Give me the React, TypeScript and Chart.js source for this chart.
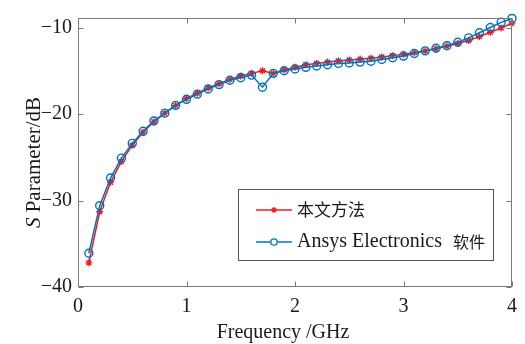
import { useEffect, useRef } from 'react';
import { Chart, registerables } from 'chart.js';

Chart.register(...registerables);

const frequencies = [
  0.1, 0.2, 0.3, 0.4, 0.5, 0.6, 0.7, 0.8, 0.9, 1.0,
  1.1, 1.2, 1.3, 1.4, 1.5, 1.6, 1.7, 1.8, 1.9, 2.0,
  2.1, 2.2, 2.3, 2.4, 2.5, 2.6, 2.7, 2.8, 2.9, 3.0,
  3.1, 3.2, 3.3, 3.4, 3.5, 3.6, 3.7, 3.8, 3.9, 4.0,
];

const proposedMethod = [
  -37.2, -31.3, -27.9, -25.5, -23.6, -22.1, -20.9, -19.9, -19.0, -18.2,
  -17.6, -17.0, -16.5, -16.0, -15.6, -15.3, -15.0, -15.3, -14.9, -14.6,
  -14.3, -14.15, -14.0, -13.85, -13.75, -13.65, -13.55, -13.4, -13.25, -13.1,
  -12.9, -12.7, -12.45, -12.15, -11.85, -11.5, -11.05, -10.55, -10.05, -9.5,
];

const ansysElectronics = [
  -36.1, -30.6, -27.4, -25.1, -23.4, -22.0, -20.8, -19.9, -19.0, -18.3,
  -17.7, -17.1, -16.6, -16.1, -15.8, -15.5, -16.9, -15.3, -15.0, -14.8,
  -14.6, -14.45, -14.3, -14.15, -14.1, -14.0, -13.9, -13.7, -13.5, -13.3,
  -13.0, -12.7, -12.4, -12.1, -11.7, -11.2, -10.6, -10.0, -9.4, -8.95,
];

const seriesLabels = ['本文方法', 'Ansys Electronics 软件'];
const xTickValues = [0, 1, 2, 3, 4];
const yTickValues = [-40, -30, -20, -10];
const xTitle = 'Frequency /GHz';
const yTitleItalic = 'S';
const yTitleRest = ' Parameter/dB';

const RED = 'rgb(236,28,36)';
const BLUE = 'rgb(0,114,189)';
const SERIF = "'Liberation Serif', 'Noto Sans CJK SC', serif";
const CJK = "'Noto Sans CJK SC', sans-serif";
const TEXT = '#1a1a1a';

function drawStar(ctx: CanvasRenderingContext2D, x: number, y: number, r: number) {
  ctx.beginPath();
  for (let k = 0; k < 4; k++) {
    const a = (k * Math.PI) / 4;
    ctx.moveTo(x - r * Math.cos(a), y - r * Math.sin(a));
    ctx.lineTo(x + r * Math.cos(a), y + r * Math.sin(a));
  }
  ctx.stroke();
}

// draw text, using a serif face for Latin runs and a CJK face (own size) for Han runs
function drawMixed(ctx: CanvasRenderingContext2D, text: string, x: number, y: number, latinSize: number, cjkSize: number) {
  const runs: { t: string; cjk: boolean }[] = [];
  for (const ch of text) {
    const cjk = /[\u4e00-\u9fff]/.test(ch);
    const last = runs[runs.length - 1];
    if (last && last.cjk === cjk) last.t += ch;
    else runs.push({ t: ch, cjk });
  }
  let cx = x;
  runs.forEach((r, i) => {
    if (r.cjk && i > 0) cx += 6;
    ctx.font = r.cjk ? `${cjkSize}px ${CJK}` : `${latinSize}px ${SERIF}`;
    ctx.fillText(r.t, cx, y);
    cx += ctx.measureText(r.t).width;
  });
}

const decorPlugin = {
  id: 'decor',
  afterDraw(chart: any) {
    const { ctx, chartArea: a, scales } = chart;
    const L = Math.round(a.left) + 0.5;
    const R = Math.round(a.right) - 0.5;
    const T = Math.round(a.top) + 0.5;
    const B = Math.round(a.bottom) - 0.5;
    ctx.save();
    // frame
    ctx.strokeStyle = '#7a7a7a';
    ctx.lineWidth = 1;
    ctx.strokeRect(L, T, R - L, B - T);
    const tl = 5;
    ctx.beginPath();
    xTickValues.forEach((v) => {
      const px = Math.round(scales.x.getPixelForValue(v)) + 0.5;
      ctx.moveTo(px, B);
      ctx.lineTo(px, B - tl);
      ctx.moveTo(px, T);
      ctx.lineTo(px, T + tl);
    });
    yTickValues.forEach((v) => {
      const py = Math.round(scales.y.getPixelForValue(v)) + 0.5;
      ctx.moveTo(L, py);
      ctx.lineTo(L + tl, py);
      ctx.moveTo(R, py);
      ctx.lineTo(R - tl, py);
    });
    ctx.stroke();

    // axis titles
    ctx.fillStyle = TEXT;
    ctx.textBaseline = 'middle';
    ctx.font = `20px ${SERIF}`;
    ctx.textAlign = 'center';
    const cx = (a.left + a.right) / 2 - 12;
    ctx.fillText(xTitle, cx, 333);

    ctx.save();
    const cy = (a.top + a.bottom) / 2 + 10;
    ctx.translate(34, cy);
    ctx.rotate(-Math.PI / 2);
    ctx.font = `italic 21px ${SERIF}`;
    const w1 = ctx.measureText(yTitleItalic).width;
    ctx.font = `21px ${SERIF}`;
    const w2 = ctx.measureText(yTitleRest).width;
    const start = -(w1 + w2) / 2;
    ctx.textAlign = 'left';
    ctx.font = `italic 21px ${SERIF}`;
    ctx.fillText(yTitleItalic, start, 0);
    ctx.font = `21px ${SERIF}`;
    ctx.fillText(yTitleRest, start + w1, 0);
    ctx.restore();

    // legend
    const bx = 238.5, by = 189.5, bw = 255, bh = 71;
    ctx.fillStyle = '#ffffff';
    ctx.fillRect(bx, by, bw, bh);
    ctx.strokeStyle = '#555555';
    ctx.lineWidth = 1;
    ctx.strokeRect(bx, by, bw, bh);
    const rows = [210, 242];
    const colors = [RED, BLUE];
    const cjkSizes = [17, 16];
    rows.forEach((ry, i) => {
      ctx.strokeStyle = colors[i];
      ctx.lineWidth = 1.5;
      ctx.beginPath();
      ctx.moveTo(256, ry);
      ctx.lineTo(292, ry);
      ctx.stroke();
      if (i === 0) {
        ctx.lineWidth = 1.2;
        drawStar(ctx, 274, ry, 3);
      } else {
        ctx.lineWidth = 1.3;
        ctx.beginPath();
        ctx.arc(274, ry, 3.2, 0, Math.PI * 2);
        ctx.fillStyle = '#ffffff';
        ctx.fill();
        ctx.stroke();
      }
      ctx.fillStyle = TEXT;
      ctx.textAlign = 'left';
      ctx.textBaseline = 'middle';
      drawMixed(ctx, seriesLabels[i], 297, ry, 20, cjkSizes[i]);
    });
    ctx.restore();
  },
};

const minus = (v: number) => String(v).replace('-', '\u2212');

export default function App() {
  const ref = useRef<HTMLCanvasElement | null>(null);

  useEffect(() => {
    document.body.style.margin = '0';
    const canvas = ref.current;
    if (!canvas) return;
    const chart = new Chart(canvas, {
      type: 'line',
      data: {
        datasets: [
          {
            label: seriesLabels[0],
            data: frequencies.map((f, i) => ({ x: f, y: proposedMethod[i] })),
            borderColor: RED,
            borderWidth: 1.5,
            pointStyle: 'star',
            pointRadius: 3.5,
            pointBorderWidth: 1.3,
            pointBorderColor: RED,
            pointBackgroundColor: RED,
            tension: 0,
            fill: false,
            clip: false,
            order: 1,
          },
          {
            label: seriesLabels[1],
            data: frequencies.map((f, i) => ({ x: f, y: ansysElectronics[i] })),
            borderColor: BLUE,
            borderWidth: 1.5,
            pointStyle: 'circle',
            pointRadius: 4,
            pointBorderWidth: 1.4,
            pointBorderColor: BLUE,
            pointBackgroundColor: 'rgba(255,255,255,0)',
            tension: 0,
            fill: false,
            clip: false,
            order: 0,
          },
        ],
      },
      options: {
        animation: false,
        responsive: false,
        events: [],
        layout: { padding: { top: 11, right: 6, left: 0, bottom: 0 } },
        plugins: { legend: { display: false }, tooltip: { enabled: false } },
        scales: {
          x: {
            type: 'linear',
            min: 0,
            max: 4,
            grid: { display: false, drawTicks: false },
            border: { display: false },
            afterBuildTicks: (ax: any) => {
              ax.ticks = xTickValues.map((v) => ({ value: v }));
            },
            afterFit: (s: any) => {
              s.height = 57;
            },
            ticks: {
              autoSkip: false,
              maxRotation: 0,
              padding: 8,
              color: TEXT,
              font: { family: SERIF, size: 20 },
              callback: (v: any) => minus(Number(v)),
            },
          },
          y: {
            type: 'linear',
            min: -40,
            max: -8.9,
            grid: { display: false, drawTicks: false },
            border: { display: false },
            afterBuildTicks: (ax: any) => {
              ax.ticks = yTickValues.map((v) => ({ value: v }));
            },
            afterFit: (s: any) => {
              s.width = 78;
            },
            ticks: {
              autoSkip: false,
              padding: 6,
              color: TEXT,
              font: { family: SERIF, size: 20 },
              callback: (v: any) => minus(Number(v)),
            },
          },
        },
      },
      plugins: [decorPlugin],
    } as any);
    return () => chart.destroy();
  }, []);

  return (
    <div style={{ width: 525, height: 344 }}>
      <canvas ref={ref} width={525} height={344} style={{ display: 'block' }} />
    </div>
  );
}
